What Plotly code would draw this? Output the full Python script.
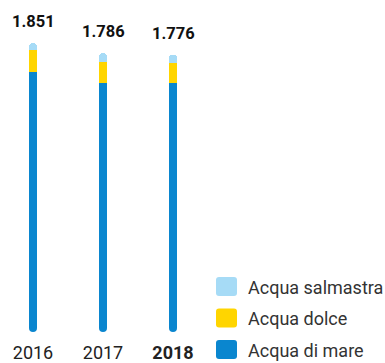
import plotly.graph_objects as go

# Water withdrawals by source (thousand m³), Italian number format
years = ["2016", "2017", "2018"]
acqua_di_mare = [1663, 1592, 1588]
acqua_dolce = [143, 136, 130]
acqua_salmastra = [45, 58, 58]

series_names = ["Acqua di mare", "Acqua dolce", "Acqua salmastra"]
series_values = [acqua_di_mare, acqua_dolce, acqua_salmastra]
series_colors = ["#0a86cf", "#ffd500", "#a6dbf6"]

W, H = 385, 363
M_B = 35                     # bottom margin (px)
PLOT_H = H - M_B
X0_PX, STEP_PX = 33, 70      # first bar centre and spacing (px)
BAR_PX = 8
Y_MAX = 2130

FONT = "Roboto"

xs = list(range(len(years)))
totals = [sum(v) for v in zip(*series_values)]

fig = go.Figure()
for name, vals, col in zip(series_names, series_values, series_colors):
    fig.add_trace(go.Bar(
        x=xs, y=vals, name=name, marker=dict(color=col, line=dict(width=0)),
        width=BAR_PX / STEP_PX, showlegend=False, hoverinfo="skip",
    ))

# rounded foot of each bar
fig.add_trace(go.Scatter(
    x=xs, y=[0] * len(xs), mode="markers", cliponaxis=False,
    marker=dict(size=BAR_PX, color=series_colors[0], line=dict(width=0)),
    showlegend=False, hoverinfo="skip",
))

def fmt_it(n):
    return f"{n:,}".replace(",", ".")

annotations = []
for x, t in zip(xs, totals):
    annotations.append(dict(
        x=x, y=t, xref="x", yref="y", text=f"<b>{fmt_it(t)}</b>",
        showarrow=False, yanchor="bottom", yshift=10,
        font=dict(family=FONT, size=16.5, color="#111111"),
    ))

# legend: rounded swatches with labels
def px_x(p):
    return p / W

def px_y(p):
    return (PLOT_H - p) / PLOT_H

def rounded_rect(x0, y0, x1, y1, r):
    return (f"M {px_x(x0 + r)} {px_y(y0)} L {px_x(x1 - r)} {px_y(y0)} "
            f"Q {px_x(x1)} {px_y(y0)} {px_x(x1)} {px_y(y0 + r)} "
            f"L {px_x(x1)} {px_y(y1 - r)} "
            f"Q {px_x(x1)} {px_y(y1)} {px_x(x1 - r)} {px_y(y1)} "
            f"L {px_x(x0 + r)} {px_y(y1)} "
            f"Q {px_x(x0)} {px_y(y1)} {px_x(x0)} {px_y(y1 - r)} "
            f"L {px_x(x0)} {px_y(y0 + r)} "
            f"Q {px_x(x0)} {px_y(y0)} {px_x(x0 + r)} {px_y(y0)} Z")

shapes = []
legend_order = [2, 1, 0]
legend_top, legend_step, sw = 277, 31.5, 20
for k, idx in enumerate(legend_order):
    top = legend_top + k * legend_step
    shapes.append(dict(
        type="path", xref="paper", yref="paper",
        path=rounded_rect(216, top, 216 + sw + 1, top + sw - 1, 3),
        fillcolor=series_colors[idx], line=dict(width=0),
    ))
    annotations.append(dict(
        x=px_x(246), y=px_y(top + sw / 2), xref="paper", yref="paper",
        xanchor="left", yanchor="middle", showarrow=False,
        text=series_names[idx],
        font=dict(family=FONT, size=18, color="#333333"),
    ))

fig.update_layout(
    width=W, height=H,
    margin=dict(l=0, r=0, t=0, b=M_B, pad=0),
    paper_bgcolor="white", plot_bgcolor="white",
    barmode="stack", barcornerradius=BAR_PX / 2,
    showlegend=False,
    xaxis=dict(
        range=[-X0_PX / STEP_PX, (W - X0_PX) / STEP_PX],
        tickvals=xs, ticktext=[years[0], years[1], f"<b>{years[2]}</b>"],
        showgrid=False, zeroline=False, showline=False, ticks="",
        ticklabelstandoff=12,
        tickfont=dict(family=FONT, size=18, color="#222222"),
    ),
    yaxis=dict(range=[0, Y_MAX], visible=False, showgrid=False, zeroline=False),
    annotations=annotations, shapes=shapes,
)

fig.write_html("out.html")
